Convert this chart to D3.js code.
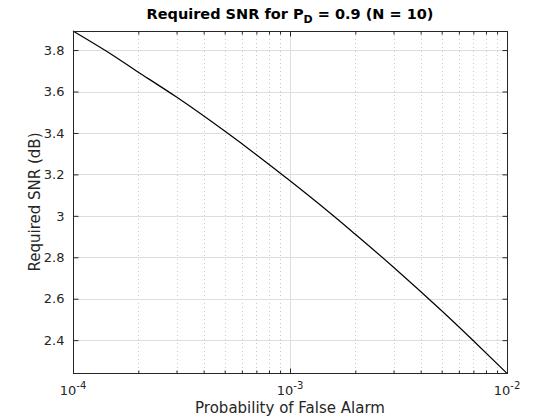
<!DOCTYPE html>
<html><head><meta charset="utf-8">
<script src="https://cdn.jsdelivr.net/npm/d3@7"></script>
<style>body{margin:0;background:#fff}svg{display:block}text{font-family:"DejaVu Sans",sans-serif}</style>
</head><body>
<script>
const pfa = [1e-4, 1.5e-4, 2e-4, 3e-4, 5e-4, 7e-4, 1e-3, 1.5e-3, 2e-3, 3e-3, 5e-3, 7e-3, 1e-2];
const snrDb = [3.892, 3.780, 3.693, 3.573, 3.409, 3.295, 3.169, 3.021, 2.911, 2.752, 2.542, 2.397, 2.240];
const yTicks = [2.4, 2.6, 2.8, 3.0, 3.2, 3.4, 3.6, 3.8];
const xDecades = [1e-4, 1e-3, 1e-2];
const xExps = ["-4", "-3", "-2"];

(function () {
const W = 560, H = 420;
const m = {l: 73, r: 507, t: 31, b: 373};
const svg = d3.select("body").append("svg").attr("width", W).attr("height", H);
const x = d3.scaleLog().domain([1e-4, 1e-2]).range([m.l, m.r]);
const y = d3.scaleLinear().domain([2.2415, 3.892]).range([m.b, m.t]);

const minors = [];
for (let d = -4; d < -2; d++) for (let k = 2; k <= 9; k++) minors.push(k * Math.pow(10, d));

const g = svg.append("g");
g.selectAll(".mg").data(minors).enter().append("line")
  .attr("x1", d => Math.round(x(d)) + 0.5).attr("x2", d => Math.round(x(d)) + 0.5)
  .attr("y1", m.t).attr("y2", m.b)
  .attr("stroke", "#c8c8c8").attr("stroke-width", 1).attr("stroke-dasharray", "1,3");
g.selectAll(".gy").data(yTicks).enter().append("line")
  .attr("x1", m.l).attr("x2", m.r)
  .attr("y1", d => Math.round(y(d)) + 0.5).attr("y2", d => Math.round(y(d)) + 0.5)
  .attr("stroke", "#dedede");
g.selectAll(".gx").data(xDecades).enter().append("line")
  .attr("x1", d => Math.round(x(d)) + 0.5).attr("x2", d => Math.round(x(d)) + 0.5)
  .attr("y1", m.t).attr("y2", m.b)
  .attr("stroke", "#dedede");

svg.append("path").datum(pfa.map((p, i) => [p, snrDb[i]]))
  .attr("fill", "none").attr("stroke", "#000").attr("stroke-width", 1.2)
  .attr("d", d3.line().x(d => x(d[0])).y(d => y(d[1])).curve(d3.curveNatural));

const ax = "#262626";
const aBottom = svg.append("g").attr("transform", `translate(0,${m.b + 0.5})`)
  .call(d3.axisBottom(x).tickValues(xDecades).tickSize(-5).tickFormat(""));
const aTop = svg.append("g").attr("transform", `translate(0,${m.t + 0.5})`)
  .call(d3.axisTop(x).tickValues(xDecades).tickSize(-5).tickFormat(""));
const aBottomMin = svg.append("g").attr("transform", `translate(0,${m.b + 0.5})`)
  .call(d3.axisBottom(x).tickValues(minors).tickSize(-3).tickFormat(""));
const aTopMin = svg.append("g").attr("transform", `translate(0,${m.t + 0.5})`)
  .call(d3.axisTop(x).tickValues(minors).tickSize(-3).tickFormat(""));
const aLeft = svg.append("g").attr("transform", `translate(${m.l + 0.5},0)`)
  .call(d3.axisLeft(y).tickValues(yTicks).tickSize(-5).tickPadding(9).tickFormat(d3.format("")));
const aRight = svg.append("g").attr("transform", `translate(${m.r + 0.5},0)`)
  .call(d3.axisRight(y).tickValues(yTicks).tickSize(-5).tickFormat(""));
[aBottom, aTop, aBottomMin, aTopMin, aLeft, aRight].forEach(a => {
  a.select(".domain").remove();
  a.selectAll(".tick line").attr("stroke", ax);
});
svg.append("rect").attr("x", m.l + 0.5).attr("y", m.t + 0.5)
  .attr("width", m.r - m.l).attr("height", m.b - m.t)
  .attr("fill", "none").attr("stroke", ax).attr("stroke-width", 1);

aLeft.selectAll(".tick text").attr("font-size", 13).attr("fill", ax)
  .attr("font-family", "DejaVu Sans");

const xl = svg.append("g");
xDecades.forEach((d, i) => {
  const t = xl.append("text").attr("x", x(d)).attr("y", 395)
    .attr("text-anchor", "middle").attr("font-size", 13).attr("fill", ax);
  t.append("tspan").text("10");
  t.append("tspan").attr("dy", -6).attr("font-size", 10).text(xExps[i]);
});

svg.append("text").attr("x", (m.l + m.r) / 2).attr("y", 413).attr("text-anchor", "middle")
  .attr("font-size", 15).attr("fill", ax).text("Probability of False Alarm");
svg.append("text").attr("transform", `translate(40,${(m.t + m.b) / 2}) rotate(-90)`)
  .attr("text-anchor", "middle").attr("font-size", 15).attr("fill", ax).text("Required SNR (dB)");

const title = svg.append("text").attr("x", (m.l + m.r) / 2).attr("y", 19).attr("text-anchor", "middle")
  .attr("font-size", 14.5).attr("font-weight", "bold").attr("fill", "#000");
title.append("tspan").text("Required SNR for P");
title.append("tspan").attr("dy", 4).attr("font-size", 11).text("D");
title.append("tspan").attr("dy", -4).text(" = 0.9 (N = 10)");
})();
</script>
</body></html>
